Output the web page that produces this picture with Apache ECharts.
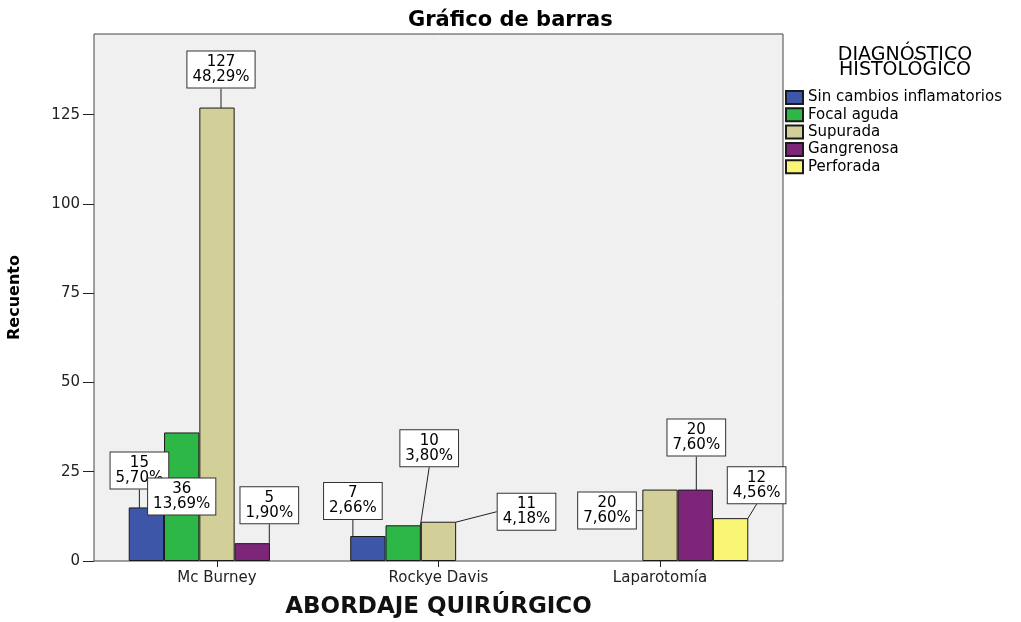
<!DOCTYPE html>
<html>
<head>
<meta charset="utf-8">
<script src="https://cdn.jsdelivr.net/npm/echarts@6/dist/echarts.min.js"></script>
<style>
html, body { margin: 0; padding: 0; background: #fff; }
#chart { width: 1021px; height: 622px; }
</style>
</head>
<body>
<div id="chart"></div>
<script>
// data
var categories = ['Mc Burney', 'Rockye Davis', 'Laparotomía'];
var seriesNames = ['Sin cambios inflamatorios', 'Focal aguda', 'Supurada', 'Gangrenosa', 'Perforada'];
var sinCambios = [15, 7, 0];
var focalAguda = [36, 10, 0];
var supurada = [127, 11, 20];
var gangrenosa = [5, 0, 20];
var perforada = [0, 0, 12];
var yTicks = [0, 25, 50, 75, 100, 125];

var seriesValues = [sinCambios, focalAguda, supurada, gangrenosa, perforada];
var colors = ['#3D56A8', '#2DB747', '#D3CF98', '#7C2579', '#FAF675'];
var yMax = 147.6;
var font = 'DejaVu Sans';

var total = 0;
seriesValues.forEach(function (arr) {
    arr.forEach(function (v) { total += v; });
});

// where SPSS dragged each callout box, relative to the default "top" spot
var labelOffsets = {
    '0-0': [-7, -14],
    '1-0': [0, 87],
    '2-0': [4, -15],
    '3-0': [17, -15],
    '0-1': [-15, -12],
    '1-1': [26, -54],
    '2-1': [88, 13],
    '2-2': [-53, 44],
    '3-2': [1, -29],
    '4-2': [26, -10]
};

var myChart = echarts.init(document.getElementById('chart'));

var series = seriesValues.map(function (arr, i) {
    return {
        name: seriesNames[i],
        type: 'bar',
        xAxisIndex: 1,
        yAxisIndex: 1,
        barGap: '0%',
        barCategoryGap: '20.3%',
        // empty cells are not drawn in the original
        data: arr.map(function (v) { return v === 0 ? null : v; }),
        itemStyle: {
            color: colors[i],
            borderColor: '#1a1a1a',
            borderWidth: 1
        },
        label: {
            show: true,
            position: 'top',
            distance: 5,
            fontFamily: font,
            fontSize: 15,
            lineHeight: 15,
            color: '#000',
            align: 'center',
            backgroundColor: '#fff',
            borderColor: '#333',
            borderWidth: 1,
            padding: [3, 5],
            formatter: function (p) {
                var pct = (p.value / total * 100).toFixed(2).replace('.', ',');
                return p.value + '\n' + pct + '%';
            }
        },
        labelLine: {
            show: true,
            lineStyle: { color: '#222', width: 1 }
        },
        labelLayout: function (p) {
            var off = labelOffsets[p.seriesIndex + '-' + p.dataIndex] || [0, 0];
            return { dx: off[0], dy: off[1] };
        }
    };
});

var option = {
    backgroundColor: '#fff',
    animation: false,
    title: [
        {
            text: 'Gráfico de barras',
            left: 403,
            top: 5,
            textStyle: { fontFamily: font, fontSize: 21, fontWeight: 'bold', color: '#000' }
        },
        {
            text: 'DIAGNÓSTICO\nHISTOLÓGICO',
            left: 900,
            top: 43,
            textAlign: 'center',
            textStyle: { fontFamily: font, fontSize: 19, fontWeight: 'normal', lineHeight: 15, color: '#000' }
        }
    ],
    legend: {
        orient: 'vertical',
        left: 785,
        top: 90,
        padding: 0,
        icon: 'rect',
        itemWidth: 17,
        itemHeight: 13,
        itemGap: 2.3,
        data: seriesNames,
        textStyle: { fontFamily: font, fontSize: 15, lineHeight: 15, color: '#000' }
    },
    grid: [
        {
            left: 94, right: 238, top: 34, bottom: 61,
            outerBoundsMode: 'none',
            show: true,
            backgroundColor: '#F0F0F0',
            borderColor: '#444',
            borderWidth: 1
        },
        {
            left: 106.25, right: 250.25, top: 34, bottom: 61,
            outerBoundsMode: 'none'
        }
    ],
    xAxis: [
        { type: 'value', gridIndex: 0, show: false },
        {
            type: 'category',
            gridIndex: 1,
            data: categories,
            name: 'ABORDAJE QUIRÚRGICO',
            nameLocation: 'middle',
            nameGap: 35,
            nameTextStyle: { fontFamily: font, fontSize: 23, fontWeight: 'bold', color: '#111' },
            axisLine: { show: false },
            axisTick: { show: true, alignWithLabel: true, length: 6, lineStyle: { color: '#222' } },
            axisLabel: { fontFamily: font, fontSize: 15, color: '#222', margin: 10 }
        }
    ],
    yAxis: [
        {
            type: 'value',
            gridIndex: 0,
            min: 0,
            max: yMax,
            name: 'Recuento',
            nameLocation: 'middle',
            nameGap: 71,
            nameRotate: 90,
            nameTextStyle: { fontFamily: font, fontSize: 16, fontWeight: 'bold', color: '#000' },
            axisLine: { show: false },
            splitLine: { show: false },
            axisTick: { show: true, length: 11, customValues: yTicks, lineStyle: { color: '#222' } },
            axisLabel: { fontFamily: font, fontSize: 15, color: '#222', margin: 14, customValues: yTicks }
        },
        { type: 'value', gridIndex: 1, min: 0, max: yMax, show: false }
    ],
    series: series
};

myChart.setOption(option);
</script>
</body>
</html>
